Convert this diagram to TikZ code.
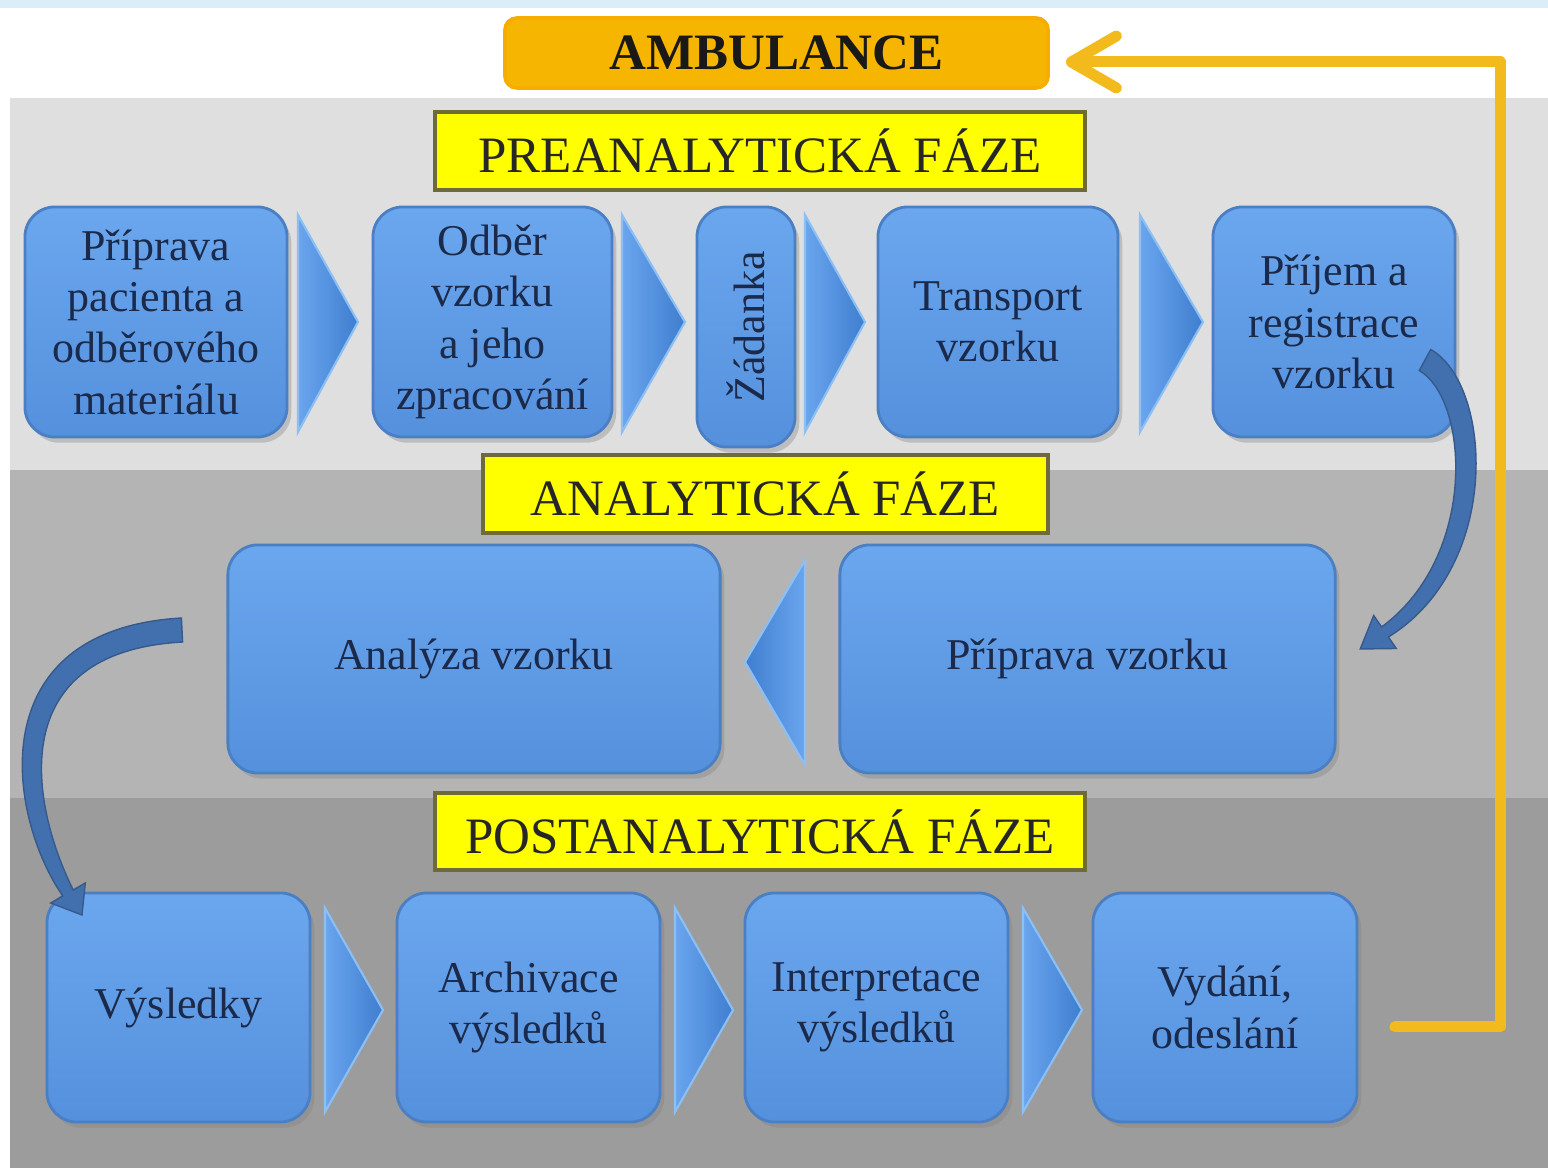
\documentclass[tikz,border=0pt]{standalone}
\usepackage{fontspec}
\usepackage{graphicx}
\setmainfont{Liberation Serif}
\usetikzlibrary{shadows,arrows.meta,calc}
\definecolor{bandA}{HTML}{DFDFDF}
\definecolor{bandB}{HTML}{B4B4B4}
\definecolor{bandC}{HTML}{9C9C9C}
\definecolor{topstrip}{HTML}{DCEDFA}
\definecolor{boxtop}{HTML}{6BA7EE}
\definecolor{boxbot}{HTML}{5590DD}
\definecolor{boxline}{HTML}{4A7FC4}
\definecolor{boxtext}{HTML}{1B2A4A}
\definecolor{hdrfill}{HTML}{FFFF00}
\definecolor{hdrline}{HTML}{6F6A3A}
\definecolor{ambfill}{HTML}{F6B500}
\definecolor{yline}{HTML}{F2BA1C}
\definecolor{chevL}{HTML}{6AA5EE}
\definecolor{chevR}{HTML}{3F7ECF}
\definecolor{chevEdge}{HTML}{8CBFF4}
\definecolor{curv}{HTML}{4270AE}
\begin{document}
\begin{tikzpicture}[x=0.01cm,y=-0.01cm,
  procbox/.style={rounded corners=0.3cm, draw=boxline, line width=0.8pt,
    top color=boxtop, bottom color=boxbot, text=boxtext, align=center,
    inner sep=0pt, font=\fontsize{12.5}{14.6}\selectfont,
    drop shadow={shadow xshift=1.2pt, shadow yshift=-1.6pt, opacity=0.35}},
  hdr/.style={fill=hdrfill, draw=hdrline, line width=1.2pt, inner sep=0pt,
    font=\fontsize{14.5}{17}\selectfont, text=black!85},
  chevright/.style={left color=chevL, right color=chevR, draw=chevEdge, line width=0.6pt},
  chevleft/.style={left color=chevR, right color=chevL, draw=chevEdge, line width=0.6pt},
  curvarrow/.style={fill=curv, draw=curv!80!black, line width=0.4pt},
  yarrow/.style={draw=yline, line width=0.11cm, line cap=round, line join=round,
    -{Straight Barb[length=0.45cm,width=0.52cm,line cap=round,line join=round]}}
]
\useasboundingbox (0,0) rectangle (1548,1174);
\fill[white] (0,0) rectangle (1548,1174);
\fill[topstrip] (0,0) rectangle (1548,8);
% bands
\fill[bandA] (10,98) rectangle (1548,470);
\fill[bandB] (10,470) rectangle (1548,798);
\fill[bandC] (10,798) rectangle (1548,1168);

% ambulance
\node[fill=ambfill, draw=ambfill!85!orange, line width=1pt, rounded corners=0.12cm,
  minimum width=5.43cm, minimum height=0.70cm, inner sep=0pt,
  font=\bfseries\fontsize{14.5}{17}\selectfont, text=black!90] (amb) at (776.5,53) {AMBULANCE};

% headers
\node[hdr, minimum width=6.50cm, minimum height=0.78cm] (h1) at (760,151) {PREANALYTICKÁ FÁZE};
\node[hdr, minimum width=5.65cm, minimum height=0.78cm] (h2) at (765.5,494) {ANALYTICKÁ FÁZE};
\node[hdr, minimum width=6.50cm, minimum height=0.77cm] (h3) at (760,831.5) {POSTANALYTICKÁ FÁZE};

% row 1
\node[procbox, minimum width=2.62cm, minimum height=2.30cm] (b1) at (156,322) {Příprava\\pacienta a\\odběrového\\materiálu};
\node[procbox, minimum width=2.39cm, minimum height=2.30cm] (b2) at (492.5,322) {Odběr\\vzorku\\a jeho\\zpracování};
\node[procbox, minimum width=0.98cm, minimum height=2.40cm] (b3) at (746,327) {\rotatebox{90}{Žádanka}};
\node[procbox, minimum width=2.40cm, minimum height=2.30cm] (b4) at (998,322) {Transport\\vzorku};
\node[procbox, minimum width=2.42cm, minimum height=2.30cm] (b5) at (1334,322) {Příjem a\\registrace\\vzorku};
\shadedraw[chevright] (298,215) -- (358,322) -- (298,432) -- cycle;
\shadedraw[chevright] (622,215) -- (685,322) -- (622,432) -- cycle;
\shadedraw[chevright] (805,215) -- (865,322) -- (805,432) -- cycle;
\shadedraw[chevright] (1140,215) -- (1203,322) -- (1140,432) -- cycle;

% row 2
\node[procbox, minimum width=4.92cm, minimum height=2.28cm] (a1) at (474,659) {Analýza vzorku};
\node[procbox, minimum width=4.95cm, minimum height=2.28cm] (a2) at (1087.5,659) {Příprava vzorku};
\shadedraw[chevleft] (805,560) -- (745,662) -- (805,765) -- cycle;

% row 3
\node[procbox, minimum width=2.63cm, minimum height=2.29cm] (c1) at (178.5,1007.5) {Výsledky};
\node[procbox, minimum width=2.63cm, minimum height=2.29cm] (c2) at (528.5,1007.5) {Archivace\\výsledků};
\node[procbox, minimum width=2.63cm, minimum height=2.29cm] (c3) at (876.5,1007.5) {Interpretace\\výsledků};
\node[procbox, minimum width=2.64cm, minimum height=2.29cm] (c4) at (1225,1007.5) {Vydání,\\odeslání};
\shadedraw[chevright] (325,908) -- (383,1010) -- (325,1112) -- cycle;
\shadedraw[chevright] (675,908) -- (733,1010) -- (675,1112) -- cycle;
\shadedraw[chevright] (1023,908) -- (1082,1010) -- (1023,1112) -- cycle;

% curved arrows
\path[curvarrow] (1430.7,349.5) .. controls (1492,384) and (1503,566) .. (1388.4,637)
  -- (1396.3,648.5) -- (1360.2,649) -- (1373.7,615.5) -- (1381.6,627)
  .. controls (1478,556) and (1469,400) .. (1419.3,370.5) -- cycle;
\path[curvarrow] (181.4,618) .. controls (-22,630) and (8,817) .. (62.8,896)
  -- (50.7,903) -- (82,915) -- (85.3,883) -- (73.2,890)
  .. controls (31,805) and (2,652) .. (182.6,642) -- cycle;

% yellow return arrow
\coordinate (ystart) at (1395,1027);
\coordinate (ycorner) at (1500,1027);
\draw[yarrow] (ystart) -- (ycorner) |- ($(amb.east)+(16,9)$);
\end{tikzpicture}
\end{document}
